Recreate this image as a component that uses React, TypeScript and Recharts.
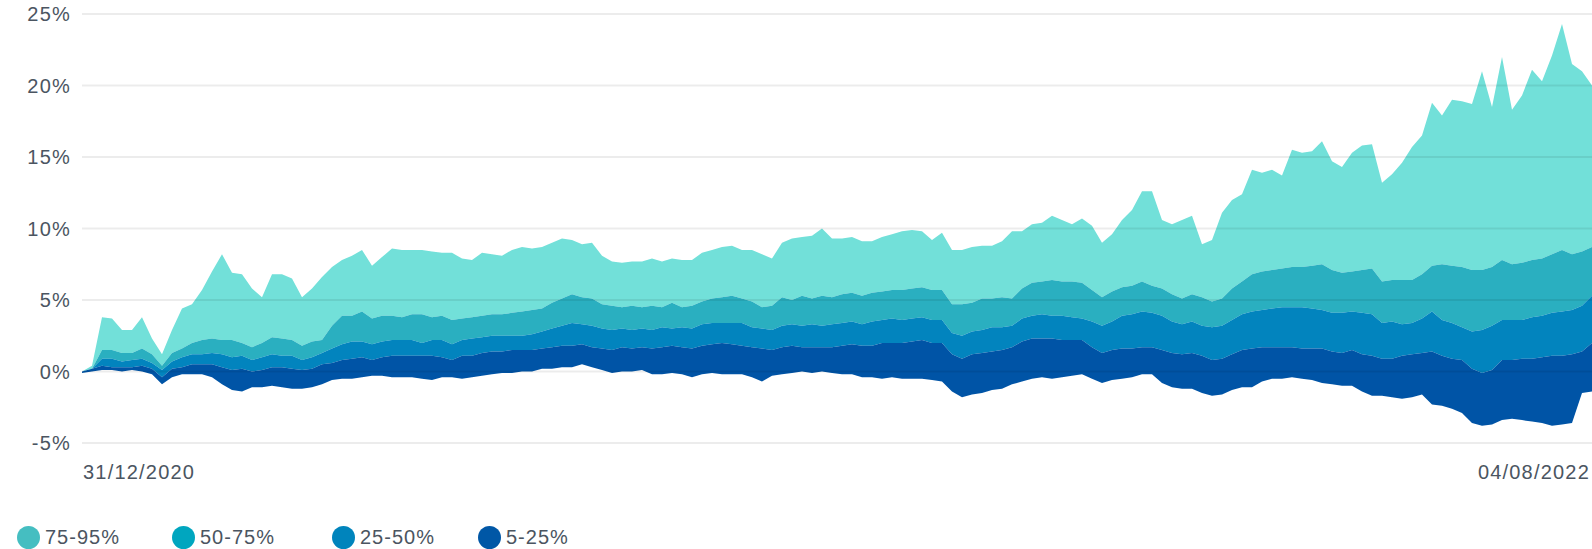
import { AreaChart, Area, XAxis, YAxis, ReferenceLine } from "recharts";

// percentile boundaries (% return), one value per sample
const P95 = [
  0.0, 0.4, 3.8, 3.7, 2.9, 2.9, 3.8, 2.3, 1.2, 2.9,
  4.4, 4.7, 5.7, 7.0, 8.2, 6.9, 6.8, 5.8, 5.2, 6.8,
  6.8, 6.5, 5.2, 5.8, 6.6, 7.3, 7.8, 8.1, 8.5, 7.4,
  8.0, 8.6, 8.5, 8.5, 8.5, 8.4, 8.3, 8.3, 7.9, 7.8,
  8.3, 8.2, 8.1, 8.5, 8.7, 8.6, 8.7, 9.0, 9.3, 9.2,
  8.9, 9.0, 8.1, 7.7, 7.6, 7.7, 7.7, 7.9, 7.7, 7.9,
  7.8, 7.8, 8.3, 8.5, 8.7, 8.8, 8.5, 8.5, 8.2, 7.9,
  9.0, 9.3, 9.4, 9.5, 10.0, 9.3, 9.3, 9.4, 9.1, 9.1,
  9.4, 9.6, 9.8, 9.9, 9.8, 9.2, 9.7, 8.5, 8.5, 8.7,
  8.8, 8.8, 9.1, 9.8, 9.8, 10.3, 10.4, 10.9, 10.6, 10.3,
  10.7, 10.2, 9.0, 9.6, 10.6, 11.3, 12.6, 12.6, 10.6, 10.3,
  10.6, 10.9, 8.9, 9.2, 11.1, 12.0, 12.4, 14.1, 13.9, 14.1,
  13.7, 15.5, 15.3, 15.4, 16.1, 14.7, 14.3, 15.3, 15.8, 15.9,
  13.2, 13.8, 14.6, 15.7, 16.5, 18.8, 17.9, 19.0, 18.9, 18.7,
  21.0, 18.5, 22.0, 18.3, 19.3, 21.1, 20.3, 22.1, 24.3, 21.5,
  21.0, 20.0,
];

const P75 = [
  0.0, 0.2, 1.5, 1.5, 1.3, 1.3, 1.6, 1.2, 0.4, 1.3,
  1.6, 2.0, 2.2, 2.3, 2.2, 2.2, 2.0, 1.7, 2.0, 2.4,
  2.3, 2.2, 1.8, 2.1, 2.2, 3.2, 3.9, 3.9, 4.2, 3.7,
  3.9, 3.9, 3.8, 4.0, 4.0, 3.8, 3.9, 3.6, 3.7, 3.8,
  3.9, 4.0, 4.0, 4.1, 4.2, 4.3, 4.4, 4.8, 5.1, 5.4,
  5.2, 5.1, 4.7, 4.6, 4.5, 4.6, 4.5, 4.6, 4.5, 4.8,
  4.5, 4.6, 4.9, 5.1, 5.2, 5.3, 5.1, 4.9, 4.5, 4.6,
  5.2, 5.0, 5.3, 5.1, 5.3, 5.2, 5.4, 5.5, 5.3, 5.5,
  5.6, 5.7, 5.7, 5.8, 5.9, 5.7, 5.7, 4.7, 4.7, 4.8,
  5.1, 5.1, 5.2, 5.1, 5.8, 6.2, 6.3, 6.4, 6.3, 6.3,
  6.2, 5.7, 5.2, 5.6, 5.9, 6.0, 6.3, 6.0, 5.8, 5.4,
  5.1, 5.4, 5.2, 4.9, 5.1, 5.8, 6.3, 6.8, 7.0, 7.1,
  7.2, 7.3, 7.3, 7.4, 7.5, 7.1, 6.9, 7.0, 7.1, 7.2,
  6.3, 6.4, 6.4, 6.4, 6.8, 7.4, 7.5, 7.4, 7.3, 7.1,
  7.1, 7.3, 7.8, 7.5, 7.6, 7.8, 7.9, 8.2, 8.5, 8.2,
  8.4, 8.7,
];

const P50 = [
  0.0, 0.2, 0.9, 0.9, 0.7, 0.8, 0.9, 0.6, 0.1, 0.7,
  1.0, 1.2, 1.2, 1.3, 1.2, 1.0, 1.1, 0.8, 1.0, 1.2,
  1.1, 1.1, 0.8, 1.0, 1.3, 1.6, 1.9, 2.1, 2.1, 1.9,
  2.1, 2.2, 2.2, 2.2, 2.0, 2.2, 2.2, 1.9, 2.2, 2.3,
  2.4, 2.5, 2.5, 2.5, 2.5, 2.6, 2.8, 3.0, 3.2, 3.4,
  3.3, 3.2, 3.0, 2.9, 3.0, 2.9, 3.0, 2.9, 3.1, 3.0,
  3.1, 3.0, 3.3, 3.4, 3.4, 3.4, 3.4, 3.1, 3.0, 2.9,
  3.2, 3.3, 3.2, 3.3, 3.2, 3.3, 3.4, 3.5, 3.3, 3.5,
  3.6, 3.7, 3.6, 3.7, 3.8, 3.6, 3.6, 2.7, 2.5, 2.8,
  2.9, 3.1, 3.1, 3.2, 3.7, 3.9, 4.0, 3.9, 3.9, 3.8,
  3.7, 3.5, 3.2, 3.5, 3.9, 4.0, 4.2, 4.1, 3.9, 3.5,
  3.3, 3.5, 3.2, 3.1, 3.2, 3.6, 4.0, 4.2, 4.3, 4.4,
  4.5, 4.5, 4.5, 4.4, 4.3, 4.1, 4.1, 4.2, 4.1, 4.0,
  3.4, 3.5, 3.3, 3.4, 3.7, 4.2, 3.6, 3.4, 3.1, 2.8,
  2.9, 3.2, 3.6, 3.6, 3.6, 3.8, 3.9, 4.1, 4.2, 4.3,
  4.6, 5.3,
];

const P25 = [
  0.0, 0.2, 0.4, 0.3, 0.3, 0.3, 0.4, 0.2, -0.4, 0.2,
  0.3, 0.5, 0.5, 0.5, 0.3, 0.1, 0.2, 0.0, 0.1, 0.3,
  0.3, 0.2, 0.1, 0.2, 0.5, 0.6, 0.8, 0.9, 1.0, 0.8,
  1.0, 1.1, 1.1, 1.1, 1.1, 1.1, 1.0, 0.8, 1.1, 1.1,
  1.3, 1.4, 1.4, 1.5, 1.5, 1.5, 1.6, 1.7, 1.8, 1.8,
  1.9, 1.7, 1.6, 1.5, 1.7, 1.6, 1.7, 1.6, 1.7, 1.8,
  1.7, 1.6, 1.8, 1.9, 2.0, 1.9, 1.8, 1.7, 1.6, 1.5,
  1.7, 1.8, 1.7, 1.7, 1.7, 1.7, 1.8, 1.9, 1.8, 1.8,
  2.0, 2.0, 2.0, 2.1, 2.2, 2.0, 2.0, 1.2, 0.9, 1.2,
  1.3, 1.4, 1.5, 1.7, 2.1, 2.3, 2.3, 2.3, 2.2, 2.2,
  2.2, 1.7, 1.3, 1.5, 1.6, 1.6, 1.7, 1.7, 1.5, 1.3,
  1.2, 1.3, 1.1, 0.8, 0.9, 1.2, 1.5, 1.6, 1.7, 1.7,
  1.7, 1.7, 1.6, 1.6, 1.6, 1.4, 1.3, 1.5, 1.2, 1.1,
  0.9, 0.9, 1.1, 1.2, 1.3, 1.4, 1.1, 0.9, 0.8, 0.2,
  -0.1, 0.1, 0.8, 0.8, 0.9, 0.9, 1.0, 1.1, 1.1, 1.2,
  1.4, 2.0,
];

const P5 = [
  -0.1, 0.0, 0.1, 0.1, 0.0, 0.1, 0.0, -0.2, -0.9, -0.4,
  -0.2, -0.2, -0.2, -0.4, -0.9, -1.3, -1.4, -1.1, -1.1, -1.0,
  -1.1, -1.2, -1.2, -1.1, -0.9, -0.6, -0.5, -0.5, -0.4, -0.3,
  -0.3, -0.4, -0.4, -0.4, -0.5, -0.6, -0.4, -0.4, -0.5, -0.4,
  -0.3, -0.2, -0.1, -0.1, 0.0, 0.0, 0.2, 0.2, 0.3, 0.3,
  0.5, 0.3, 0.1, -0.1, 0.0, 0.0, 0.1, -0.2, -0.2, -0.1,
  -0.2, -0.4, -0.2, -0.1, -0.2, -0.2, -0.2, -0.4, -0.7, -0.3,
  -0.2, -0.1, 0.0, -0.1, 0.0, -0.1, -0.2, -0.2, -0.4, -0.4,
  -0.5, -0.4, -0.5, -0.5, -0.5, -0.6, -0.7, -1.4, -1.8, -1.6,
  -1.5, -1.3, -1.2, -0.9, -0.7, -0.5, -0.4, -0.5, -0.4, -0.3,
  -0.2, -0.5, -0.8, -0.6, -0.5, -0.4, -0.2, -0.2, -0.8, -1.1,
  -1.2, -1.2, -1.5, -1.7, -1.6, -1.3, -1.1, -1.1, -0.7, -0.5,
  -0.5, -0.4, -0.5, -0.6, -0.8, -0.9, -1.0, -1.0, -1.4, -1.7,
  -1.7, -1.8, -1.9, -1.8, -1.6, -2.3, -2.4, -2.6, -2.9, -3.6,
  -3.8, -3.7, -3.4, -3.3, -3.4, -3.5, -3.6, -3.8, -3.7, -3.6,
  -1.5, -1.4,
];

const BAND_NAMES = ["75-95%", "50-75%", "25-50%", "5-25%"];
const DATE_LABELS = ["31/12/2020", "04/08/2022"];
const Y_TICKS = [-5, 0, 5, 10, 15, 20, 25];

const data = P95.map((v, i) => ({
  i,
  p95: v,
  p75: P75[i],
  p50: P50[i],
  p25: P25[i],
  p5: P5[i],
}));
const LAST = data.length - 1;

const FONT = '"Liberation Sans", Arial, Helvetica, sans-serif';
const TEXT = "#4b5561";

const bands = [
  { name: BAND_NAMES[0], lo: "p75", hi: "p95", fill: "#72e0d9", swatch: "#45bec1", left: 17 },
  { name: BAND_NAMES[1], lo: "p50", hi: "p75", fill: "#2aafc0", swatch: "#00a6bf", left: 172 },
  { name: BAND_NAMES[2], lo: "p25", hi: "p50", fill: "#0284be", swatch: "#0084bc", left: 332 },
  { name: BAND_NAMES[3], lo: "p5", hi: "p25", fill: "#0054a6", swatch: "#0057a6", left: 478 },
];

function YTick(props: any) {
  const { y, payload } = props;
  return (
    <text
      x={71}
      y={y}
      textAnchor="end"
      dominantBaseline="central"
      fill={TEXT}
      fontSize={20}
      letterSpacing={1.2}
      fontFamily={FONT}
    >
      {payload.value}%
    </text>
  );
}

function XTick(props: any) {
  const { x, payload } = props;
  const first = payload.value === 0;
  return (
    <text
      x={first ? x + 1 : x - 2}
      y={472}
      textAnchor={first ? "start" : "end"}
      dominantBaseline="central"
      fill={TEXT}
      fontSize={20}
      letterSpacing={1.2}
      fontFamily={FONT}
    >
      {first ? DATE_LABELS[0] : DATE_LABELS[1]}
    </text>
  );
}

export default function App() {
  return (
    <div
      style={{
        position: "absolute",
        left: 0,
        top: 0,
        width: 1592,
        height: 549,
        overflow: "hidden",
        background: "#fff",
      }}
    >
      <AreaChart
        width={1592}
        height={549}
        data={data}
        margin={{ top: 14, right: 0, bottom: 66, left: 0 }}
      >
        <XAxis
          type="number"
          dataKey="i"
          domain={[0, LAST]}
          ticks={[0, LAST]}
          interval={0}
          axisLine={false}
          tickLine={false}
          height={40}
          tick={<XTick />}
        />
        <YAxis
          type="number"
          domain={[-5, 25]}
          ticks={Y_TICKS}
          interval={0}
          axisLine={false}
          tickLine={false}
          width={82}
          tick={<YTick />}
        />
        {bands.map((b) => (
          <Area
            key={b.name}
            name={b.name}
            type="linear"
            dataKey={(d: any) => [d[b.lo], d[b.hi]]}
            stroke="none"
            fill={b.fill}
            fillOpacity={1}
            dot={false}
            activeDot={false}
            isAnimationActive={false}
          />
        ))}
        {Y_TICKS.map((t) => (
          <ReferenceLine
            key={t}
            y={t}
            stroke="#000"
            strokeOpacity={0.075}
            strokeWidth={2}
          />
        ))}
      </AreaChart>

      <div style={{ position: "absolute", left: 0, top: 526, width: 620, height: 23 }}>
        {bands.map((b) => (
          <div
            key={b.name}
            style={{
              position: "absolute",
              left: b.left,
              top: 0,
              height: 23,
              display: "flex",
              alignItems: "center",
            }}
          >
            <span
              style={{
                width: 23,
                height: 23,
                borderRadius: "50%",
                background: b.swatch,
                display: "inline-block",
              }}
            />
            <span
              style={{
                marginLeft: 5,
                fontSize: 20,
                letterSpacing: 1,
                color: TEXT,
                fontFamily: FONT,
                lineHeight: "23px",
                whiteSpace: "nowrap",
              }}
            >
              {b.name}
            </span>
          </div>
        ))}
      </div>
    </div>
  );
}
